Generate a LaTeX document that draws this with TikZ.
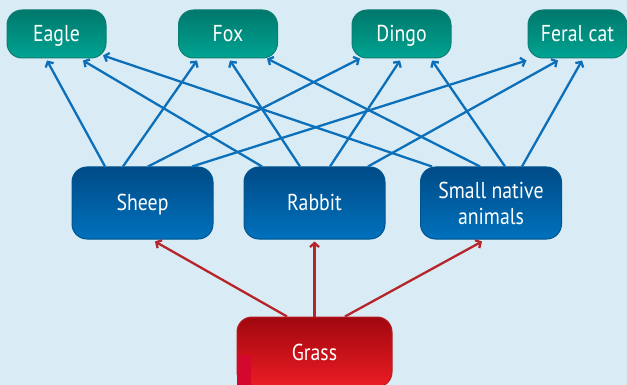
\documentclass[tikz,border=0pt]{standalone}
\usepackage{fontspec}
\setmainfont[FakeStretch=0.86]{PT Sans}
\usetikzlibrary{arrows.meta}
\definecolor{bg}{HTML}{D9EBF5}
\definecolor{tealtop}{HTML}{00786C}
\definecolor{tealbot}{HTML}{00A492}
\definecolor{tealedge}{HTML}{0B7F72}
\definecolor{bluetop}{HTML}{004B87}
\definecolor{bluebot}{HTML}{0071BC}
\definecolor{blueedge}{HTML}{00558F}
\definecolor{redtop}{HTML}{A0070E}
\definecolor{redbot}{HTML}{EC1C24}
\definecolor{rededge}{HTML}{B91C22}
\definecolor{barrowc}{HTML}{0B6FBA}
\definecolor{rarrowc}{HTML}{B5252A}
\definecolor{redpatch}{HTML}{D4082C}
\tikzset{
  boxfont/.style={font=\fontsize{23}{26}\selectfont},
  oneline/.style={text height=16pt, text depth=0pt},
  box/.style={rounded corners=15pt, text=white, boxfont, align=center, inner sep=0pt, line width=1pt},
  topbox/.style={box, oneline, draw=tealedge, top color=tealtop, bottom color=tealbot, minimum width=99pt, minimum height=48pt},
  midbox/.style={box, draw=blueedge, top color=bluetop, bottom color=bluebot, minimum width=141pt, minimum height=72pt},
  grassbox/.style={box, draw=rededge, top color=redtop, bottom color=redbot, minimum width=155pt, minimum height=70pt},
  barrow/.style={draw=barrowc, line width=2.3pt, -{Straight Barb[length=4pt,width=9pt]}},
  rarrow/.style={draw=rarrowc, line width=2.3pt, -{Straight Barb[length=4pt,width=9pt]}}
}
\begin{document}
\begin{tikzpicture}[x=1pt,y=-1pt]
\useasboundingbox (0,0) rectangle (627,385);
\fill[bg] (0,0) rectangle (627,385);
\begin{scope}
\clip (0,0) rectangle (627,385);
\node[topbox] (eagle) at (56.5,34) {Eagle};
\node[topbox] (fox) at (228,34) {Fox};
\node[topbox] (dingo) at (401.5,34) {Dingo};
\node[topbox] (feral) at (577.5,34) {Feral cat};
\node[midbox, oneline] (sheep) at (142.5,203) {Sheep};
\node[midbox, oneline] (rabbit) at (314.5,203) {Rabbit};
\node[midbox] (small) at (491,203) {Small native\\animals};
\node[grassbox] (grass) at (314.5,352) {};
\fill[redpatch] ([xshift=0.5pt]grass.west |- 0,355) rectangle (251,386);
\node[text=white, boxfont, oneline, inner sep=0pt] (grasslabel) at (grass.center) {Grass};

% sheep
\draw[barrow] ([xshift=-37.5pt]sheep.north) -- ([xshift=-9.5pt,yshift=-2pt]eagle.south);
\draw[barrow] ([xshift=-19.5pt]sheep.north) -- ([xshift=-31pt,yshift=-2pt]fox.south);
\draw[barrow] ([xshift=5.5pt]sheep.north) -- ([xshift=-41.5pt]dingo.south);
\draw[barrow] ([xshift=49.5pt]sheep.north) -- ([xshift=-1pt,yshift=-2pt]feral.south west);
% rabbit
\draw[barrow] ([xshift=-52.5pt]rabbit.north) -- ([xshift=26.5pt,yshift=-2pt]eagle.south);
\draw[barrow] ([xshift=-14.5pt]rabbit.north) -- ([xshift=2pt,yshift=-2pt]fox.south);
\draw[barrow] ([xshift=15.5pt]rabbit.north) -- ([xshift=-1.5pt,yshift=-2pt]dingo.south);
\draw[barrow] ([xshift=53.5pt]rabbit.north) -- ([xshift=-19.5pt,yshift=-2pt]feral.south);
% small native
\draw[barrow] ([xshift=-59pt]small.north) -- ([xshift=46.5pt,yshift=3pt]eagle.south);
\draw[barrow] ([xshift=-11pt]small.north) -- ([xshift=39pt]fox.south);
\draw[barrow] ([xshift=14pt]small.north) -- ([xshift=30.5pt,yshift=-2pt]dingo.south);
\draw[barrow] ([xshift=31pt]small.north) -- ([xshift=4.5pt,yshift=-2pt]feral.south);
% grass
\draw[rarrow] ([xshift=-27.5pt]grass.north) -- ([xshift=12.5pt,yshift=-2pt]sheep.south);
\draw[rarrow] (grass.north) -- ([yshift=-2pt]rabbit.south);
\draw[rarrow] ([xshift=30.5pt]grass.north) -- ([xshift=-9pt,yshift=-2pt]small.south);
\end{scope}
\end{tikzpicture}
\end{document}
